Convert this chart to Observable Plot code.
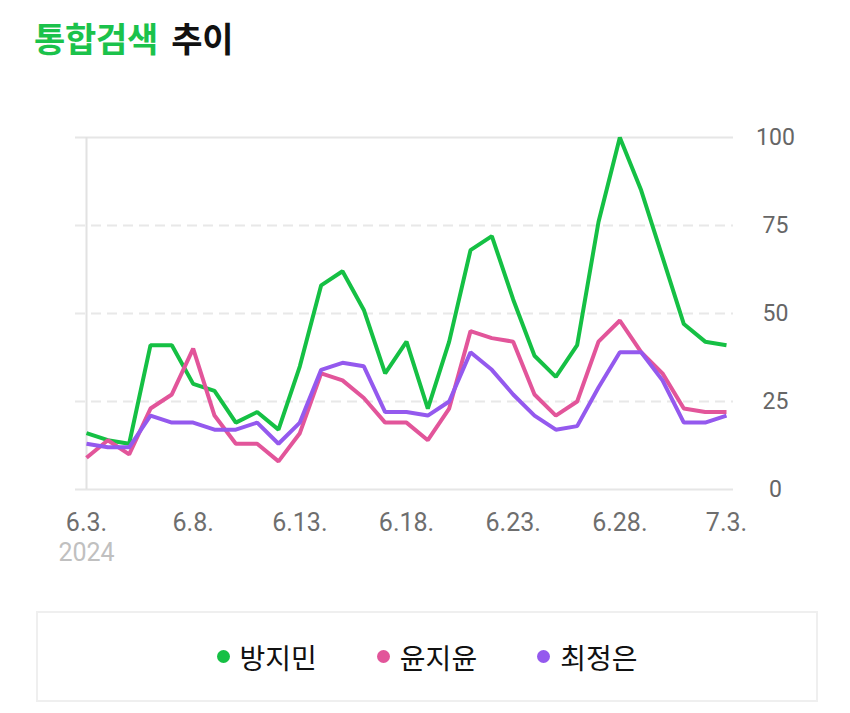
<!DOCTYPE html>
<html>
<head>
<meta charset="utf-8">
<script src="https://cdn.jsdelivr.net/npm/d3@7"></script>
<script src="https://cdn.jsdelivr.net/npm/@observablehq/plot@0.6"></script>
<style>
  html, body { margin: 0; padding: 0; background: #fff; width: 850px; height: 713px; overflow: hidden; }
  body { position: relative; font-family: Roboto, "Noto Sans CJK KR", sans-serif; }
  #title { position: absolute; left: 34px; top: 13px; font-family: "Noto Sans CJK KR", sans-serif; font-weight: 700; font-size: 34px; letter-spacing: -0.3px; color: #111; white-space: nowrap; }
  #title .g { color: #1bc24b; margin-right: 6px; }
  #chart { position: absolute; left: 0; top: 90px; }
  #legend { position: absolute; left: 36px; top: 611px; width: 778px; height: 87px; border: 2px solid #efefef; display: flex; align-items: center; justify-content: center; gap: 60px; font-family: "Noto Sans CJK KR", sans-serif; font-size: 28px; color: #111; }
  #legend .item { display: flex; align-items: center; gap: 10px; }
  #legend .dot { width: 13px; height: 13px; border-radius: 50%; display: inline-block; }
</style>
</head>
<body>
<div id="title"><span class="g">통합검색</span> 추이</div>
<div id="chart"></div>
<div id="legend"></div>
<script>
const dates = ["2024-06-03","2024-06-04","2024-06-05","2024-06-06","2024-06-07","2024-06-08","2024-06-09","2024-06-10","2024-06-11","2024-06-12","2024-06-13","2024-06-14","2024-06-15","2024-06-16","2024-06-17","2024-06-18","2024-06-19","2024-06-20","2024-06-21","2024-06-22","2024-06-23","2024-06-24","2024-06-25","2024-06-26","2024-06-27","2024-06-28","2024-06-29","2024-06-30","2024-07-01","2024-07-02","2024-07-03"];
const seriesNames = ["방지민", "윤지윤", "최정은"];
const seriesColors = ["#15c044", "#e2559a", "#9459ee"];
const bangjimin = [16,14,13,41,41,30,28,19,22,17,35,58,62,51,33,42,23,42,68,72,54,38,32,41,76,100,85,66,47,42,41];
const yunjiyun  = [9,14,10,23,27,40,21,13,13,8,16,33,31,26,19,19,14,23,45,43,42,27,21,25,42,48,39,33,23,22,22];
const choijeongeun = [13,12,12,21,19,19,17,17,19,13,19,34,36,35,22,22,21,25,39,34,27,21,17,18,29,39,39,31,19,19,21];
const xTickDates = ["2024-06-03","2024-06-08","2024-06-13","2024-06-18","2024-06-23","2024-06-28","2024-07-03"];
const xTickLabels = ["6.3.","6.8.","6.13.","6.18.","6.23.","6.28.","7.3."];
const yearLabel = "2024";
const yTicks = [0, 25, 50, 75, 100];

const parse = d3.utcParse("%Y-%m-%d");
const allSeries = [bangjimin, yunjiyun, choijeongeun];
const rows = [];
allSeries.forEach((vals, si) => vals.forEach((v, i) => rows.push({date: parse(dates[i]), value: v, name: seriesNames[si]})));
const tickRows = xTickDates.map((d, i) => ({date: parse(d), label: xTickLabels[i]}));

const plot = Plot.plot({
  width: 850,
  height: 490,
  marginLeft: 86,
  marginRight: 124,
  marginTop: 47,
  marginBottom: 91,
  style: {fontFamily: "Roboto, sans-serif", background: "transparent", overflow: "visible"},
  x: {type: "utc", domain: [parse(dates[0]), parse(dates[dates.length - 1])], axis: null},
  y: {domain: [0, 100], axis: null},
  color: {domain: seriesNames, range: seriesColors},
  marks: [
    Plot.ruleY(yTicks.filter(t => t === 0 || t === 100), {stroke: "#e6e6e6", strokeWidth: 2, insetLeft: -11, insetRight: -7}),
    Plot.ruleY(yTicks.filter(t => t !== 0 && t !== 100), {stroke: "#e8e8e8", strokeWidth: 2, strokeDasharray: "10,6", insetLeft: -11, insetRight: -7}),
    Plot.ruleX([parse(dates[0])], {y1: 0, y2: 100, stroke: "#e2e2e2", strokeWidth: 2}),
    Plot.text(yTicks, {x: parse(dates[dates.length - 1]), y: d => d, text: d => String(d), dx: 49, textAnchor: "middle", fontSize: 23, fill: "#666"}),
    Plot.text(tickRows, {x: "date", y: 0, text: "label", dy: 33, fontSize: 25, fill: "#6e6e6e", letterSpacing: "1.5px"}),
    Plot.text([yearLabel], {x: parse(dates[0]), y: 0, text: d => d, dy: 63, fontSize: 25, fill: "#c0c0c0", letterSpacing: "1.5px"}),
    Plot.line(rows, {x: "date", y: "value", z: "name", stroke: "name", strokeWidth: 4, strokeLinejoin: "miter", strokeLinecap: "butt"})
  ]
});
document.getElementById("chart").appendChild(plot);

const legend = document.getElementById("legend");
seriesNames.forEach((n, i) => {
  const item = document.createElement("div");
  item.className = "item";
  const dot = document.createElement("span");
  dot.className = "dot";
  dot.style.background = seriesColors[i];
  const t = document.createElement("span");
  t.textContent = n;
  item.appendChild(dot);
  item.appendChild(t);
  legend.appendChild(item);
});
</script>
</body>
</html>
